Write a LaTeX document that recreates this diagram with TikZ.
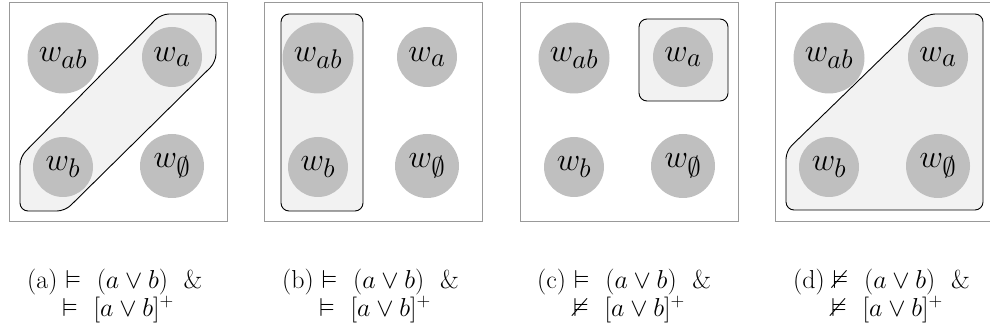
\documentclass[tikz,border=0pt]{standalone}
\usepackage{amssymb}
\usepackage{graphicx}
\newcommand{\wlab}[1]{\scalebox{1.3}{$w_{#1}$}}
\newcommand{\captxt}[1]{\scalebox{1.25}{#1}}
\begin{document}
\begin{tikzpicture}[x=1pt,y=-1pt,
  frame/.style={draw=black!40, line width=1pt},
  region/.style={draw=black, fill=black!5, line width=0.9pt, rounded corners=8pt},
  world/.style={circle, fill=black!25, inner sep=0pt, font=\Huge},
  bigw/.style={world, minimum size=71pt},
  smallw/.style={world, minimum size=60pt},
  midw/.style={world, minimum size=64pt},
  captext/.style={font=\huge, anchor=base west, inner sep=0pt}]
\useasboundingbox (0,0) rectangle (990,331);
% frames
\foreach \f/\n in {9/A,264/B,520/C,775/D}{
  \draw[frame] (\f,3) rectangle ({\f+218},221);
}
% regions
\draw[region] (161,14) -- (216,14) -- (216,62) -- (65,211) -- (20,211) -- (20,157) -- cycle;
\draw[region] (281,14) rectangle (363,211);
\draw[region] (639,19) rectangle (728,101);
\draw[region] (927,14) -- (983,14) -- (983,210) -- (786,210) -- (786,151) -- cycle;
% worlds
\foreach \f/\n in {9/A,264/B,520/C,775/D}{
  \node[bigw]   (wab\n) at ({\f+54},58)  {\wlab{ab}};
  \node[smallw] (wa\n)  at ({\f+163},57) {\wlab{a}};
  \node[smallw] (wb\n)  at ({\f+54},167) {\wlab{b}};
  \node[midw]   (wo\n)  at ({\f+163},166) {\wlab{\emptyset}};
}
% captions
\node[captext] (capA1) at (27,288)  {\captxt{(a) $\vDash$\ \ $(a \vee b)$\ \ \&}};
\node[captext] (capA2) at (62,316)  {\captxt{$\vDash$\ \ $[a \vee b]^{+}$}};
\node[captext] (capB1) at (282,288) {\captxt{(b) $\vDash$\ \ $(a \vee b)$\ \ \&}};
\node[captext] (capB2) at (319,316) {\captxt{$\vDash$\ \ $[a \vee b]^{+}$}};
\node[captext] (capC1) at (537,288) {\captxt{(c) $\vDash$\ \ $(a \vee b)$\ \ \&}};
\node[captext] (capC2) at (573,316) {\captxt{$\nvDash$\ \ $[a \vee b]^{+}$}};
\node[captext] (capD1) at (793,288) {\captxt{(d) $\nvDash$\ \ $(a \vee b)$\ \ \&}};
\node[captext] (capD2) at (831,316) {\captxt{$\nvDash$\ \ $[a \vee b]^{+}$}};
\end{tikzpicture}
\end{document}
